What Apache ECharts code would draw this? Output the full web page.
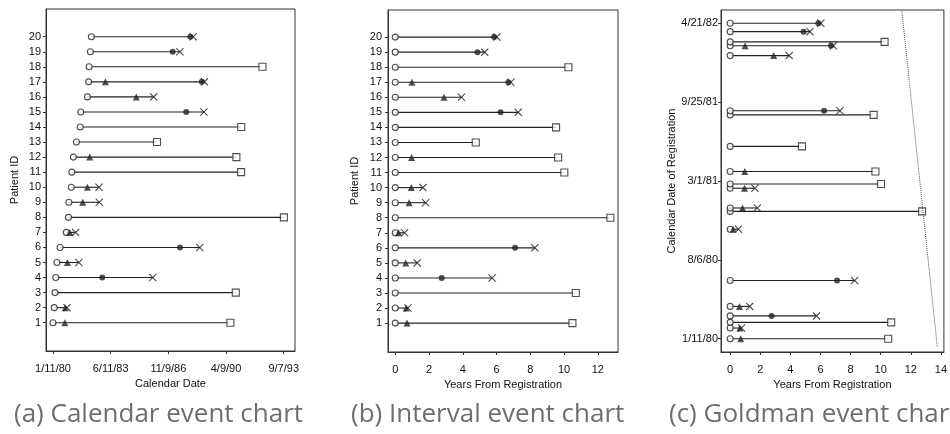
<!DOCTYPE html>
<html>
<head>
<meta charset="utf-8">
<script src="https://cdn.jsdelivr.net/npm/echarts@6/dist/echarts.min.js"></script>
<style>
  html, body { margin: 0; padding: 0; background: #fff; }
  #chart { width: 950px; height: 434px; }
</style>
</head>
<body>
<div id="chart"></div>
<script>
// 三种事件图：日历、间隔、Goldman。数据按患者 1..20 排列。

const patientIds = [1, 2, 3, 4, 5, 6, 7, 8, 9, 10, 11, 12, 13, 14, 15, 16, 17, 18, 19, 20];
// 登记日期，距 1/11/80 的天数
const regDays = [0, 28, 43, 60, 85, 153, 288, 335, 344, 396, 407, 440, 506, 589, 600, 745, 771, 781, 808, 830];
// 末次随访（年）；died=1 画 X，否则画空心方块（删失）
const lastYears = [10.5, 0.75, 10.7, 5.74, 1.3, 8.27, 0.55, 12.75, 1.8, 1.64, 10.02, 9.65, 4.77, 9.53, 7.29, 3.92, 6.85, 10.26, 5.3, 6.02];
const died = [0, 1, 0, 1, 1, 1, 1, 0, 1, 1, 0, 0, 0, 0, 1, 1, 1, 0, 1, 1];
// 中间事件（年）：实心三角与实心圆
const triangleYears = [0.7, 0.65, null, null, 0.62, null, 0.2, null, 0.82, 0.95, null, 0.97, null, null, null, 2.89, 0.99, null, null, null];
const dotYears = [null, null, null, 2.75, null, 7.1, null, null, null, null, null, null, null, null, 6.24, null, 6.7, null, 4.87, 5.86];

// 刻度
const calTickDays = [0, 1247, 2494, 3741, 4988];
const calTickLabels = ["1/11/80", "6/11/83", "11/9/86", "4/9/90", "9/7/93"];
const regTickDays = [0, 207.5, 415, 622.5, 830];
const regTickLabels = ["1/11/80", "8/6/80", "3/1/81", "9/25/81", "4/21/82"];
const yearTicksB = [0, 2, 4, 6, 8, 10, 12];
const yearTicksC = [0, 2, 4, 6, 8, 10, 12, 14];
// Goldman 图中的研究截止线（年, 登记天数）
const followUpLine = [[13.76, -20], [11.4, 865]];

const INK = "#222";
const FONT = "'Liberation Sans', Arial, sans-serif";
const YEAR = 365.25;
const X_PATH = "path://M0,1L1,0L5,4L9,0L10,1L6,5L10,9L9,10L5,6L1,10L0,9L4,5Z";

function axisBase(extra) {
  return Object.assign({
    type: "value",
    axisLine: { show: true, onZero: false, lineStyle: { color: "#333", width: 1 } },
    splitLine: { show: false },
    nameLocation: "middle",
    nameTextStyle: { color: "#111", fontSize: 11, fontFamily: FONT },
  }, extra);
}
function ticks(values) {
  return { show: true, inside: false, length: 3, customValues: values, lineStyle: { color: "#333" } };
}
function labelStyle(margin, values, fmt) {
  return { color: "#111", fontSize: 11, fontFamily: FONT, margin, customValues: values, formatter: fmt };
}

function renderSegment(params, api) {
  const p0 = api.coord([api.value(0), api.value(2)]);
  const p1 = api.coord([api.value(1), api.value(2)]);
  return {
    type: "line",
    shape: { x1: p0[0], y1: p0[1], x2: p1[0], y2: p1[1] },
    style: { stroke: INK, lineWidth: 1.1 },
  };
}

// 每个面板：线段 + 各类标记。xOf(i, years) / yOf(i) 决定坐标。
function panelSeries(idx, xOf, yOf) {
  const seg = [], start = [], tri = [], dot = [], cross = [], sq = [];
  patientIds.forEach((id, i) => {
    const y = yOf(i);
    seg.push([xOf(i, 0), xOf(i, lastYears[i]), y]);
    start.push([xOf(i, 0), y]);
    if (triangleYears[i] != null) tri.push([xOf(i, triangleYears[i]), y]);
    if (dotYears[i] != null) dot.push([xOf(i, dotYears[i]), y]);
    if (died[i]) cross.push([xOf(i, lastYears[i]), y]);
    else sq.push([xOf(i, lastYears[i]), y]);
  });
  const common = { xAxisIndex: idx, yAxisIndex: idx, silent: true, animation: false };
  return [
    Object.assign({ type: "custom", renderItem: renderSegment, encode: { x: [0, 1], y: 2 }, data: seg }, common),
    Object.assign({ type: "scatter", symbol: "circle", symbolSize: 6, itemStyle: { color: "#fff", borderColor: INK, borderWidth: 1.1 }, data: start }, common),
    Object.assign({ type: "scatter", symbol: "triangle", symbolSize: 7, itemStyle: { color: INK }, data: tri }, common),
    Object.assign({ type: "scatter", symbol: "circle", symbolSize: 6, itemStyle: { color: INK }, data: dot }, common),
    Object.assign({ type: "scatter", symbol: X_PATH, symbolSize: 8, itemStyle: { color: INK }, data: cross }, common),
    Object.assign({ type: "scatter", symbol: "rect", symbolSize: 7, itemStyle: { color: "#fff", borderColor: INK, borderWidth: 1.1 }, data: sq }, common),
  ];
}

const gridStyle = { show: true, borderColor: "#333", borderWidth: 1, backgroundColor: "transparent" };

const option = {
  backgroundColor: "#fff",
  title: [
    { text: "(a) Calendar event chart", left: 9, top: 397 },
    { text: "(b) Interval event chart", left: 346, top: 397 },
    { text: "(c) Goldman event chart", left: 664, top: 397 },
  ].map((t) => Object.assign(t, {
    textStyle: { color: "#6e6e6e", fontSize: 26, fontWeight: "normal", fontFamily: "'Open Sans', 'Noto Sans', sans-serif" },
  })),
  grid: [
    Object.assign({ left: 46, top: 9, width: 249, height: 342 }, gridStyle),
    Object.assign({ left: 388, top: 10, width: 230, height: 342 }, gridStyle),
    Object.assign({ left: 721, top: 10, width: 224, height: 342 }, gridStyle),
  ],
  xAxis: [
    axisBase({
      gridIndex: 0, min: -151, max: 5232, name: "Calendar Date", nameGap: 27,
      axisTick: ticks(calTickDays),
      axisLabel: labelStyle(12, calTickDays, (v) => calTickLabels[calTickDays.indexOf(v)]),
    }),
    axisBase({
      gridIndex: 1, min: -0.43, max: 13.2, name: "Years From Registration", nameGap: 27,
      axisTick: ticks(yearTicksB),
      axisLabel: labelStyle(12, yearTicksB, (v) => String(v)),
    }),
    axisBase({
      gridIndex: 2, min: -0.61, max: 14.2, name: "Years From Registration", nameGap: 27,
      axisTick: ticks(yearTicksC),
      axisLabel: labelStyle(12, yearTicksC, (v) => String(v)),
    }),
  ],
  yAxis: [
    axisBase({
      gridIndex: 0, min: -0.88, max: 21.84, name: "Patient ID", nameGap: 26,
      axisTick: ticks(patientIds),
      axisLabel: labelStyle(5, patientIds, (v) => String(v)),
    }),
    axisBase({
      gridIndex: 1, min: -0.92, max: 21.8, name: "Patient ID", nameGap: 28,
      axisTick: ticks(patientIds),
      axisLabel: labelStyle(6, patientIds, (v) => String(v)),
    }),
    axisBase({
      gridIndex: 2, min: -35, max: 865, name: "Calendar Date of Registration", nameGap: 41,
      axisTick: ticks(regTickDays),
      axisLabel: labelStyle(3, regTickDays, (v) => regTickLabels[regTickDays.indexOf(v)]),
    }),
  ],
  series: [
    ...panelSeries(0, (i, yrs) => regDays[i] + yrs * YEAR, (i) => patientIds[i]),
    ...panelSeries(1, (i, yrs) => yrs, (i) => patientIds[i]),
    {
      type: "line", xAxisIndex: 2, yAxisIndex: 2, silent: true, animation: false,
      symbol: "none", data: followUpLine,
      lineStyle: { color: "#555", width: 1, type: "dotted" },
    },
    ...panelSeries(2, (i, yrs) => yrs, (i) => regDays[i]),
  ],
};

const chart = echarts.init(document.getElementById("chart"));
chart.setOption(option);
</script>
</body>
</html>
